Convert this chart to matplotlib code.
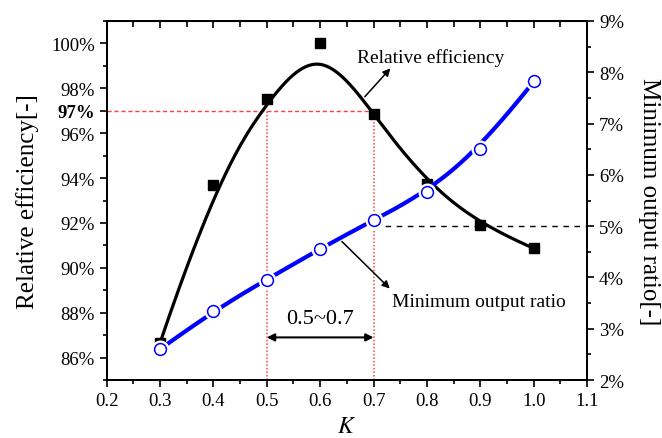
import numpy as np
import matplotlib
matplotlib.use("Agg")
from matplotlib import pyplot as plt
from matplotlib.ticker import MultipleLocator, FuncFormatter

# data
k = [0.3, 0.4, 0.5, 0.6, 0.7, 0.8, 0.9, 1.0]
efficiency = [86.65, 93.67, 97.54, 100.0, 96.85, 93.72, 91.9, 90.87]  # %
min_ratio = [2.6, 3.35, 3.96, 4.56, 5.12, 5.66, 6.51, 7.82]  # %
left_ticks = [86, 88, 90, 92, 94, 96, 97, 98, 100]
right_ticks = [2, 3, 4, 5, 6, 7, 8, 9]
x_ticks = [0.2, 0.3, 0.4, 0.5, 0.6, 0.7, 0.8, 0.9, 1.0, 1.1]

plt.rcParams["font.family"] = ["Liberation Serif", "DejaVu Serif"]
plt.rcParams["mathtext.fontset"] = "stix"


def bspline(xs, ys, num=400):
    # clamped cubic B-spline with the points as control points (Origin style)
    p = 3
    n = len(xs)
    kv = np.concatenate([np.zeros(p), np.arange(n - p + 1), np.full(p, n - p)]).astype(float)
    t = np.linspace(0, n - p, num)
    t[-1] -= 1e-9
    m = len(kv) - 1
    B = np.array([((kv[i] <= t) & (t < kv[i + 1])).astype(float) for i in range(m)])
    for d in range(1, p + 1):
        Bn = np.zeros((m - d, len(t)))
        for i in range(m - d):
            d1 = kv[i + d] - kv[i]
            d2 = kv[i + d + 1] - kv[i + 1]
            a = (t - kv[i]) / d1 * B[i] if d1 > 0 else 0
            b = (kv[i + d + 1] - t) / d2 * B[i + 1] if d2 > 0 else 0
            Bn[i] = a + b
        B = Bn
    return B.T @ np.asarray(xs, float), B.T @ np.asarray(ys, float)


fig = plt.figure(figsize=(6.62, 4.39), dpi=100)
ax = fig.add_axes([0.161, 0.132, 0.726, 0.818])
ax2 = ax.twinx()

# reference lines
ax.plot([0.2, 0.7], [97, 97], color="#ff4040", lw=1, ls=(0, (3, 2)), zorder=1)
ax.plot([0.5, 0.5], [85, 97], color="#ff4040", lw=1.1, ls=(0, (1, 1.3)), zorder=1)
ax.plot([0.7, 0.7], [85, 97], color="#ff4040", lw=1.1, ls=(0, (1, 1.3)), zorder=1)
ax2.plot([0.7, 1.1], [5, 5], color="black", lw=1, ls=(0, (4, 4)), zorder=1)

# relative efficiency
sx, sy = bspline(k, efficiency)
ax.plot(sx, sy, color="black", lw=2.3, zorder=3)
ax.plot(k, efficiency, ls="none", marker="s", ms=7.5, color="black", zorder=4)

# minimum output ratio
bx, by = bspline(k, min_ratio)
ax2.plot(bx, by, color="blue", lw=3, zorder=3)
ax2.plot(k, min_ratio, ls="none", marker="o", ms=13, mfc="white", mec="none", zorder=4)
ax2.plot(k, min_ratio, ls="none", marker="o", ms=8.5, mfc="white", mec="blue", mew=1.1, zorder=5)

# axes
ax.set_xlim(0.2, 1.1)
ax.set_ylim(85, 101)
ax2.set_ylim(2, 9)
ax.set_xticks(x_ticks)
ax.xaxis.set_major_formatter(FuncFormatter(lambda v, p: f"{v:.1f}"))
ax.xaxis.set_minor_locator(MultipleLocator(0.05))
ax.set_yticks(left_ticks)
ax.set_yticklabels([f"{v}%" for v in left_ticks])
for lab, v in zip(ax.get_yticklabels(), left_ticks):
    if v == 97:
        lab.set_fontweight("bold")
        lab.set_fontsize(12)
ax.yaxis.set_minor_locator(MultipleLocator(1))
ax2.set_yticks(right_ticks)
ax2.set_yticklabels([f"{v}%" for v in right_ticks])
ax2.yaxis.set_minor_locator(MultipleLocator(0.5))

ax.tick_params(axis="both", which="both", labelsize=13.5, width=1.2)
ax.tick_params(axis="y", which="major", direction="out", length=5, left=True, right=False)
ax.tick_params(axis="y", which="minor", direction="out", length=3, left=True, right=False)
ax.tick_params(axis="x", which="major", direction="out", length=5, top=False)
ax.tick_params(axis="x", which="minor", direction="out", length=3, top=False)
ax2.tick_params(axis="y", which="both", labelsize=13.5, width=1.2, direction="out")
ax2.tick_params(axis="y", which="major", length=5)
ax2.tick_params(axis="y", which="minor", length=3)

top = ax.secondary_xaxis("top")
top.set_xticks(x_ticks)
top.xaxis.set_minor_locator(MultipleLocator(0.05))
top.tick_params(axis="x", which="both", direction="in", labeltop=False, width=1.2)
top.tick_params(axis="x", which="major", length=5)
top.tick_params(axis="x", which="minor", length=4)

for a in (ax, ax2):
    for s in a.spines.values():
        s.set_linewidth(1.3)

ax.set_xlabel("$K$", fontsize=17, labelpad=5)
ax.set_ylabel("Relative efficiency[-]", fontsize=18, labelpad=9)
ax2.set_ylabel("Minimum output ratio[-]", fontsize=18, rotation=270, labelpad=26)

# annotations
ax.annotate("", xy=(0.735, 98.98), xytext=(0.68, 97.53),
            arrowprops=dict(arrowstyle="-|>", color="black", lw=1.1, mutation_scale=11), zorder=6)
ax.text(0.668, 99.4, "Relative efficiency", fontsize=14, va="center", ha="left", zorder=6)
ax.annotate("", xy=(0.734, 88.99), xytext=(0.637, 91.26),
            arrowprops=dict(arrowstyle="-|>", color="black", lw=1.1, mutation_scale=11), zorder=6)
ax.text(0.734, 88.5, "Minimum output ratio", fontsize=14, va="center", ha="left", zorder=6)
ax.annotate("", xy=(0.5, 86.9), xytext=(0.7, 86.9),
            arrowprops=dict(arrowstyle="<|-|>", color="black", lw=1.5, mutation_scale=11,
                            shrinkA=0, shrinkB=0), zorder=6)
ax.text(0.6, 87.75, "0.5~0.7", fontsize=16, ha="center", va="center", zorder=6)

fig.savefig("out.png", dpi=100)
